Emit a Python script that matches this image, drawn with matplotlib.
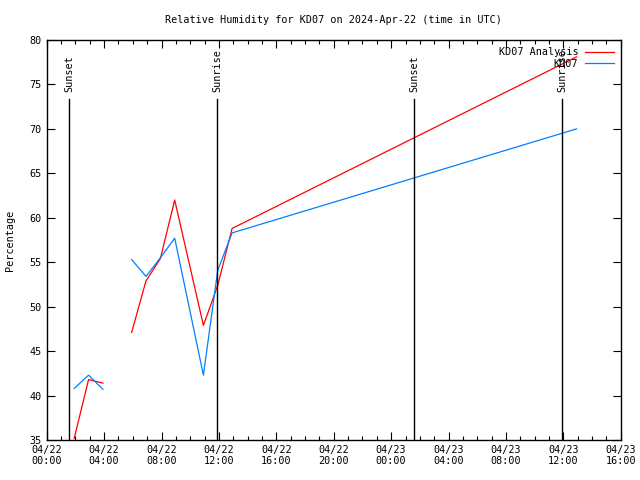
import matplotlib
matplotlib.use("Agg")
import matplotlib.pyplot as plt
import matplotlib.dates as mdates
import numpy as np
import pandas as pd

plt.rcParams['font.family'] = ['DejaVu Sans Mono']
plt.rcParams['font.size'] = 7

base = pd.Timestamp("2024-04-22 00:00")
times = [base + pd.Timedelta(t) for t in [
    "1h55min", "2h55min", "3h55min", "4h55min", "5h55min", "6h55min",
    "7h55min", "8h55min", "10h55min", "11h55min", "12h55min", "36h55min"]]
analysis = [35.2, 41.8, 41.4, np.nan, 47.1, 52.9, 55.4, 62.0, 47.9, 52.4, 58.8, 78.1]
observed = [40.8, 42.3, 40.7, np.nan, 55.3, 53.4, 55.5, 57.7, 42.3, 54.1, 58.3, 70.0]

sun_events = [base + pd.Timedelta(t) for t in ["1h34min", "11h53min", "25h36min", "35h56min"]]
sun_labels = ["Sunset", "Sunrise", "Sunset", "Sunrise"]

FS = 7.3

fig = plt.figure(figsize=(6.4, 4.8), dpi=100)
ax = fig.add_axes([0.073, 0.0833, 0.897, 0.8334])

ax.plot(times, analysis, color="#ff0000", lw=0.9, label="KD07 Analysis")
ax.plot(times, observed, color="#0080ff", lw=0.9, label="KD07")

for t, lab in zip(sun_events, sun_labels):
    ax.plot([t, t], [35, 73.4], color="black", lw=1.0)
    ax.text(t, 74.1, lab, rotation=90, ha="center", va="bottom", fontsize=FS)

ax.set_xlim(base, base + pd.Timedelta("40h"))
ax.set_ylim(35, 80)
ax.set_yticks(np.arange(35, 81, 5))
ax.xaxis.set_major_locator(mdates.HourLocator(byhour=[0, 4, 8, 12, 16, 20]))
ax.xaxis.set_minor_locator(mdates.HourLocator())
ax.xaxis.set_major_formatter(mdates.DateFormatter("%m/%d\n%H:%M"))
ax.tick_params(axis="both", which="both", direction="in", top=True, right=True, labelsize=FS)
ax.tick_params(which="major", length=6, width=0.8)
ax.tick_params(which="minor", length=3, width=0.8)
for s in ax.spines.values():
    s.set_linewidth(1.0)

ax.set_ylabel("Percentage", fontsize=FS)
ax.yaxis.set_label_coords(-0.055, 0.5)
fig.text(333.8 / 640, 1 - 20 / 480, "Relative Humidity for KD07 on 2024-Apr-22 (time in UTC)",
         ha="center", va="center", fontsize=FS)

ax.legend(loc="upper right", frameon=False, markerfirst=False, fontsize=FS,
          handlelength=2.8, borderaxespad=0.3, labelspacing=0.15, handletextpad=0.7,
          borderpad=0.4)

fig.savefig("out.png", dpi=100)
